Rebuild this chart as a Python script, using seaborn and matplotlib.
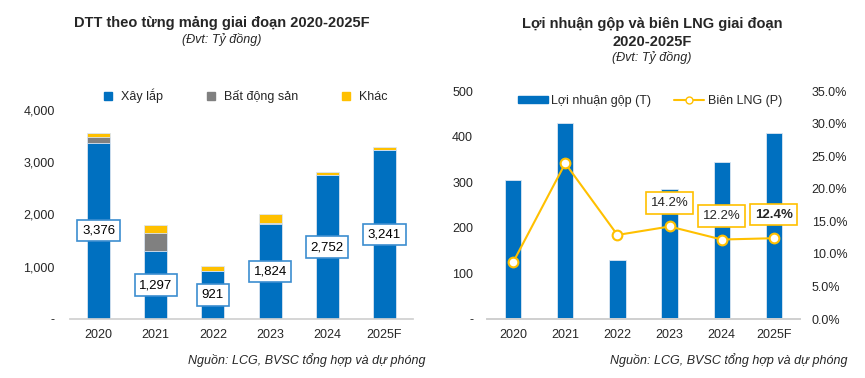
import numpy as np
import pandas as pd
import matplotlib
matplotlib.use("Agg")
import matplotlib.pyplot as plt
import seaborn as sns
from matplotlib.lines import Line2D
from matplotlib.patches import Patch

# Dữ liệu
years = ["2020", "2021", "2022", "2023", "2024", "2025F"]
xay_lap = [3376, 1297, 921, 1824, 2752, 3241]
bat_dong_san = [100, 350, 0, 10, 0, 0]
khac = [75, 160, 85, 180, 65, 60]

loi_nhuan_gop = [305, 429, 129, 285, 344, 407]
bien_lng = [8.7, 23.9, 12.9, 14.2, 12.2, 12.4]
bien_labels = {3: "14.2%", 4: "12.2%", 5: "12.4%"}

BLUE = "#0070C0"
GREY = "#808080"
YELLOW = "#FFC000"

sns.set_theme(style="white")
plt.rcParams["font.family"] = ["Liberation Sans", "DejaVu Sans"]
plt.rcParams["font.size"] = 8.5

fig = plt.figure(figsize=(8.65, 3.78), dpi=100)
ax1 = fig.add_axes([70 / 865, 1 - 319 / 378, 343 / 865, 209 / 378])
ax2 = fig.add_axes([487 / 865, 1 - 319 / 378, 313 / 865, 228 / 378])

# ---- Biểu đồ trái: DTT theo mảng (cột chồng) ----
df = pd.DataFrame({"year": years, "xl": xay_lap, "bds": bat_dong_san, "khac": khac})
df["lvl2"] = df["xl"] + df["bds"]
df["lvl3"] = df["lvl2"] + df["khac"]

kw = dict(width=0.4, edgecolor="#DCE6F2", linewidth=0.6, ax=ax1)
sns.barplot(data=df, x="year", y="lvl3", color=YELLOW, saturation=1, **kw)
sns.barplot(data=df, x="year", y="lvl2", color=GREY, saturation=1, **kw)
sns.barplot(data=df, x="year", y="xl", color=BLUE, saturation=1, **kw)

for i, v in enumerate(xay_lap):
    ax1.text(i, v / 2, f"{v:,}", ha="center", va="center", fontsize=9.5, color="black",
             bbox=dict(boxstyle="square,pad=0.35", fc="white", ec="#3C8DD0", lw=1.2))

ax1.set_ylim(0, 4000)
ax1.set_xlim(-0.5, 5.5)
ax1.set_yticks([0, 1000, 2000, 3000, 4000])
ax1.set_yticklabels(["-", "1,000", "2,000", "3,000", "4,000"])
ax1.set_xlabel("")
ax1.set_ylabel("")
for s in ["top", "right", "left"]:
    ax1.spines[s].set_visible(False)
ax1.spines["bottom"].set_color("#D0D0D0")
ax1.tick_params(axis="y", length=0, pad=11, labelsize=9)
ax1.tick_params(axis="x", length=0, pad=7, labelsize=9)

h1 = [Line2D([], [], marker="s", ls="", color=c, markersize=6) for c in [BLUE, GREY, YELLOW]]
ax1.legend(h1, ["Xây lắp", "Bất động sản", "Khác"], loc="lower center",
           bbox_to_anchor=(0.5, 0.98), ncol=3, frameon=False, fontsize=9,
           handletextpad=0.05, columnspacing=2.8)

# ---- Biểu đồ phải: LNG và biên LNG ----
df2 = pd.DataFrame({"year": years, "lng": loi_nhuan_gop, "bien": bien_lng})
sns.barplot(data=df2, x="year", y="lng", color=BLUE, saturation=1, width=0.31,
            edgecolor="#DCE6F2", linewidth=0.6, ax=ax2)
ax2.set_ylim(0, 500)
ax2.set_xlim(-0.5, 5.5)
ax2.set_yticks(range(0, 501, 100))
ax2.set_yticklabels(["-", "100", "200", "300", "400", "500"])
ax2.set_xlabel("")
ax2.set_ylabel("")

ax3 = ax2.twinx()
df2["pos"] = np.arange(len(years))
sns.lineplot(data=df2, x="pos", y="bien", color=YELLOW, lw=1.5, marker="o",
             markersize=7, markerfacecolor="white", markeredgecolor=YELLOW,
             markeredgewidth=1.5, ax=ax3)
ax3.set_ylim(0, 35)
ax3.set_yticks(np.arange(0, 36, 5))
ax3.set_yticklabels([f"{v:.1f}%" for v in np.arange(0, 36, 5)])
ax3.set_ylabel("")
ax3.set_xlabel("")
ax2.set_xlim(-0.5, 5.5)

for i, txt in bien_labels.items():
    ax3.annotate(txt, (i, bien_lng[i]), xytext=(0, 17), textcoords="offset points",
                 ha="center", va="center", fontsize=9.5,
                 fontweight="bold" if i == 5 else "normal",
                 bbox=dict(boxstyle="square,pad=0.35", fc="white", ec=YELLOW, lw=1.2))

for a in (ax2, ax3):
    for s in ["top", "right", "left"]:
        a.spines[s].set_visible(False)
    a.spines["bottom"].set_color("#D0D0D0")
ax2.tick_params(axis="y", length=0, pad=10, labelsize=9)
ax2.tick_params(axis="x", length=0, pad=7, labelsize=9)
ax3.tick_params(axis="y", length=0, pad=8.5, labelsize=9)

h2 = [Patch(color=BLUE), Line2D([], [], color=YELLOW, marker="o", markerfacecolor="white",
                                 markeredgecolor=YELLOW, lw=1.5, markersize=5)]
ax2.legend(h2, ["Lợi nhuận gộp (T)", "Biên LNG (P)"], loc="center", ncol=2,
           bbox_to_anchor=(0.52, 0.955), frameon=False, fontsize=9,
           handlelength=2.4, handleheight=0.5, handletextpad=0.3, columnspacing=1.8)

# ---- Tiêu đề và nguồn ----
fig.text(222 / 865, 1 - 23 / 378, "DTT theo từng mảng giai đoạn 2020-2025F",
         ha="center", va="center", fontsize=10.5, fontweight="bold")
fig.text(222 / 865, 1 - 40 / 378, "(Đvt: Tỷ đồng)", ha="center", va="center",
         fontsize=9, style="italic")
fig.text(652 / 865, 1 - 24 / 378, "Lợi nhuận gộp và biên LNG giai đoạn",
         ha="center", va="center", fontsize=10.5, fontweight="bold")
fig.text(652 / 865, 1 - 42 / 378, "2020-2025F", ha="center", va="center",
         fontsize=10.5, fontweight="bold")
fig.text(652 / 865, 1 - 58 / 378, "(Đvt: Tỷ đồng)", ha="center", va="center",
         fontsize=9, style="italic")
fig.text(425 / 865, 1 - 360 / 378, "Nguồn: LCG, BVSC tổng hợp và dự phóng",
         ha="right", va="center", fontsize=9, style="italic")
fig.text(848 / 865, 1 - 360 / 378, "Nguồn: LCG, BVSC tổng hợp và dự phóng",
         ha="right", va="center", fontsize=9, style="italic")

fig.savefig("out.png", dpi=100)
